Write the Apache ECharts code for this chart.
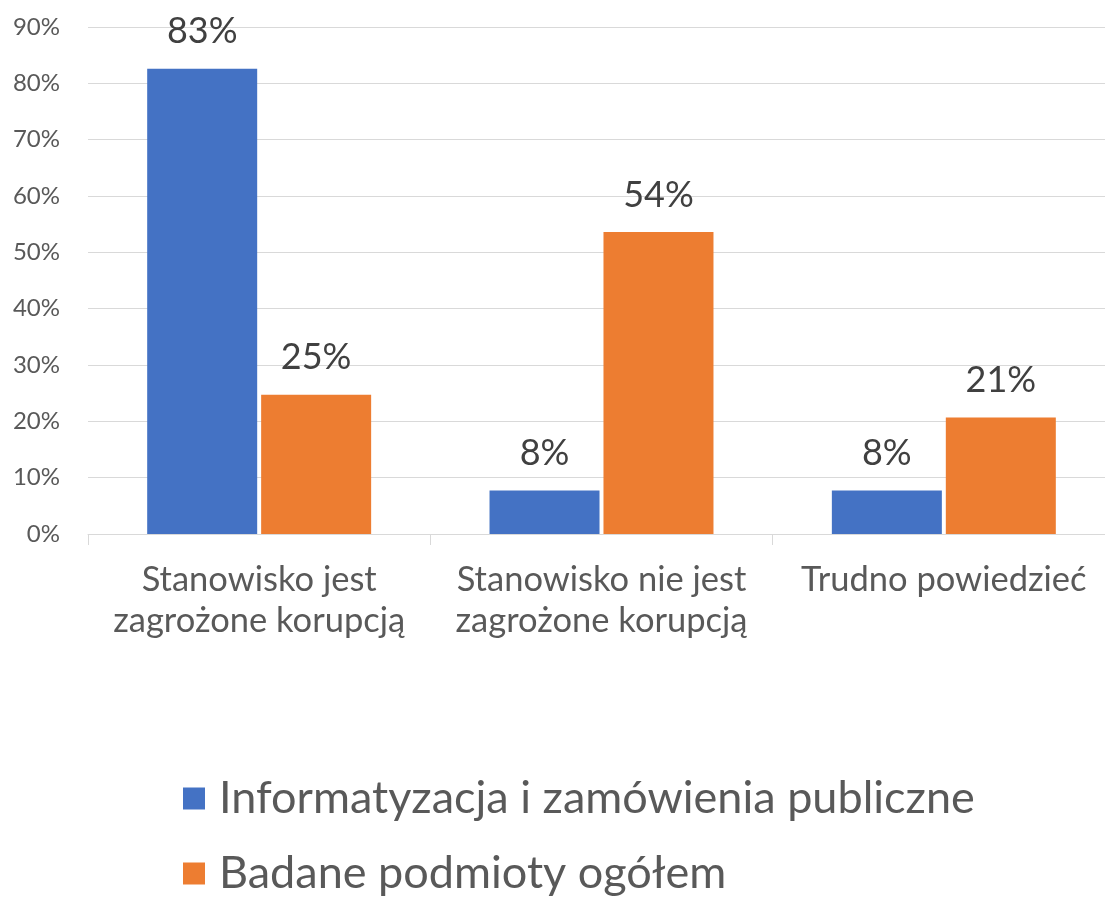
<!DOCTYPE html>
<html>
<head>
<meta charset="utf-8">
<script src="https://cdn.jsdelivr.net/npm/echarts@6/dist/echarts.min.js"></script>
<style>
html, body { margin: 0; padding: 0; background: #fff; }
#main { width: 1105px; height: 897px; }
</style>
</head>
<body>
<div id="main"></div>
<script type="text/javascript">
// dane wykresu
var categories = ['Stanowisko jest\nzagrożone korupcją', 'Stanowisko nie jest\nzagrożone korupcją', 'Trudno powiedzieć'];
var seriesNames = ['Informatyzacja i zamówienia publiczne', 'Badane podmioty ogółem'];
var informatyzacja = [82.6, 7.7, 7.7];
var badane = [24.7, 53.6, 20.7];
var yMax = 90;
var yStep = 10;

var fontFamily = 'Lato, "Open Sans", sans-serif';
var myChart = echarts.init(document.getElementById('main'));

function barLabel() {
	return {
		show: true,
		position: 'top',
		distance: 19,
		color: '#404040',
		fontSize: 36,
		fontFamily: fontFamily,
		formatter: function (p) { return Math.round(p.value) + '%'; }
	};
}

var option = {
	animation: false,
	textStyle: { fontFamily: fontFamily },
	// wykres wychodzi troche poza prawa krawedz
	grid: { left: 88, right: -10, top: 27, bottom: 363, outerBoundsMode: 'none' },
	legend: {
		orient: 'vertical',
		left: 183,
		top: 776,
		padding: 0,
		icon: 'rect',
		itemWidth: 22,
		itemHeight: 22,
		itemGap: 30,
		textStyle: { color: '#595959', fontSize: 45, fontFamily: fontFamily, padding: [0, 0, 0, 9] },
		data: seriesNames
	},
	xAxis: {
		type: 'category',
		data: categories,
		axisLine: { lineStyle: { color: '#D9D9D9', width: 1 } },
		axisTick: { show: true, length: 11, lineStyle: { color: '#D9D9D9' } },
		axisLabel: { interval: 0, color: '#595959', fontSize: 34.5, lineHeight: 41, margin: 25, fontFamily: fontFamily }
	},
	yAxis: {
		type: 'value',
		min: 0,
		max: yMax,
		interval: yStep,
		axisLine: { show: false },
		axisTick: { show: false },
		splitLine: { lineStyle: { color: '#D9D9D9', width: 1 } },
		axisLabel: { color: '#595959', fontSize: 24, margin: 28, fontFamily: fontFamily, formatter: '{value}%' }
	},
	series: [{
		name: seriesNames[0],
		type: 'bar',
		data: informatyzacja,
		barWidth: 110,
		barGap: '3.6%',
		itemStyle: { color: '#4472C4' },
		label: barLabel()
	}, {
		name: seriesNames[1],
		type: 'bar',
		data: badane,
		barWidth: 110,
		itemStyle: { color: '#ED7D31' },
		label: barLabel()
	}]
};
myChart.setOption(option);
</script>
</body>
</html>
